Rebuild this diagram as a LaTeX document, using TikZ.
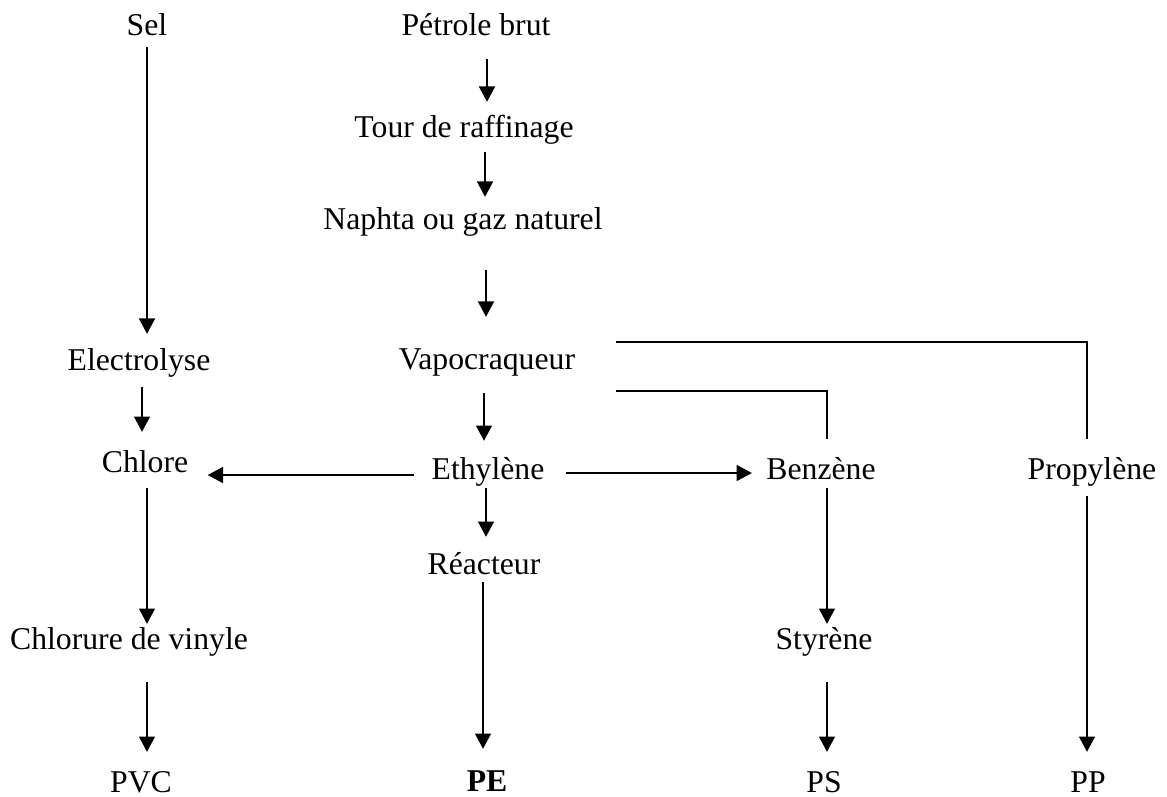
\documentclass[tikz,border=0pt]{standalone}
\usepackage{fontspec}
\setmainfont{Liberation Serif}
\usetikzlibrary{arrows.meta, calc}

\begin{document}
\begin{tikzpicture}[
    x=0.3785pt, y=-0.3785pt,
    etape/.style={inner sep=0pt, text height=8pt, text depth=0pt, anchor=south,
        font=\fontsize{12pt}{14pt}\selectfont},
    fleche/.style={-{Triangle[length=5.8pt, width=6pt]}, line width=0.75pt},
    trait/.style={line width=0.75pt}
]
    \useasboundingbox (0,0) rectangle (1167,796);

    % Chlore branch
    \node[etape] (sel) at (147,36) {Sel};
    \node[etape] (elec) at (139,371) {Electrolyse};
    \node[etape] (chlore) at (145,473) {Chlore};
    \node[etape] (cv) at (129,650) {Chlorure de vinyle};
    \node[etape] (pvc) at (141,793) {PVC};

    % Petrole branch
    \node[etape] (pb) at (476,36) {Pétrole brut};
    \node[etape] (tour) at (464,138) {Tour de raffinage};
    \node[etape] (naphta) at (463,230) {Naphta ou gaz naturel};
    \node[etape] (vapo) at (487,370) {Vapocraqueur};
    \node[etape] (ethyl) at (488,480) {Ethylène};
    \node[etape] (react) at (484,575) {Réacteur};
    \node[etape] (pe) at (487,792) {\textbf{PE}};

    % Aromatics and propylene
    \node[etape] (benz) at (821,480) {Benzène};
    \node[etape] (styr) at (824,650) {Styrène};
    \node[etape] (ps) at (824,793) {PS};
    \node[etape] (prop) at (1092,480) {Propylène};
    \node[etape] (pp) at (1088,793) {PP};

    % Arrows (chlore)
    \draw[fleche] ($(sel.south)+(0,11)$) -- ($(elec.north)+(8,-15)$);
    \draw[fleche] ($(elec.south)+(3,16)$) -- ($(chlore.north)+(-3,-19)$);
    \draw[fleche] ($(chlore.south)+(2,15)$) -- ($(cv.north)+(18,-4)$);
    \draw[fleche] ($(cv.south)+(18,32)$) -- ($(pvc.north)+(6,-19)$);

    % Arrows (petrole)
    \draw[fleche] ($(pb.south)+(11,23)$) -- ($(tour.north)+(23,-14)$);
    \draw[fleche] ($(tour.south)+(21,14)$) -- ($(naphta.north)+(22,-11)$);
    \draw[fleche] ($(naphta.south)+(23,40)$) -- ($(vapo.north)+(-1,-31)$);
    \draw[fleche] ($(vapo.south)+(-3,23)$) -- ($(ethyl.north)+(-4,-17)$);
    \draw[fleche] ($(ethyl.south)+(-2,8)$) -- ($(react.north)+(2,-16)$);
    \draw[fleche] ($(react.south)+(-1,7)$) -- ($(pe.north)+(-4,-21)$);

    % Ethylene to the sides
    \draw[fleche] ($(ethyl.south west)+(-17,-5)$) -- ($(chlore.south east)+(19,2)$);
    \draw[fleche] ($(ethyl.south east)+(21,-7)$) -- ($(benz.south west)+(-14,-7)$);

    % Vapocraqueur outlets
    \draw[trait] ($(vapo.north east)+(40,-6)$) -| ($(prop.north)+(-5,-19)$);
    \draw[trait] ($(vapo.south east)+(40,21)$) -| ($(benz.north)+(6,-19)$);

    \draw[fleche] ($(benz.south)+(6,8)$) -- ($(styr.north)+(3,-4)$);
    \draw[fleche] ($(styr.south)+(3,32)$) -- ($(ps.north)+(3,-19)$);
    \draw[fleche] ($(prop.south)+(-5,16)$) -- ($(pp.north)+(-1,-19)$);
\end{tikzpicture}
\end{document}
